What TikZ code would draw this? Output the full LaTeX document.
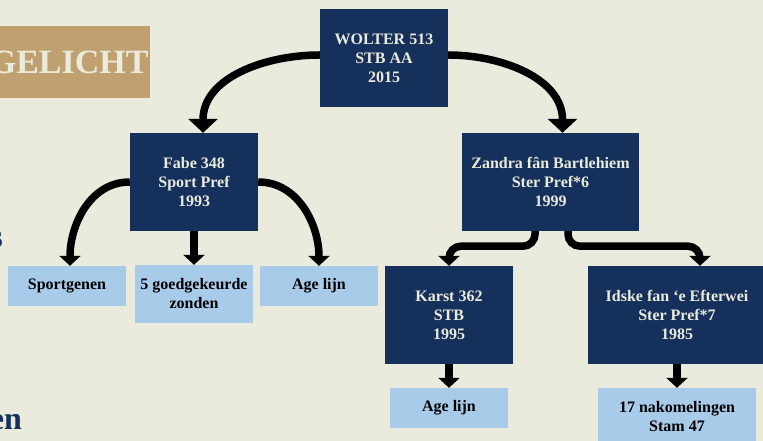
\documentclass[tikz,border=0pt]{standalone}
\usepackage{fontspec}
\setmainfont{Liberation Serif}
\usetikzlibrary{arrows.meta}
\definecolor{navy}{HTML}{15305A}
\definecolor{paleblue}{HTML}{A9CBEA}
\definecolor{gold}{HTML}{C0A06F}
\definecolor{cream}{HTML}{EAEADD}

\begin{document}
\begin{tikzpicture}[x=1pt,y=1pt,
	horse/.style={fill=navy,text=cream,minimum width=128pt,minimum height=98pt,align=center,inner sep=0pt,font=\fontsize{16}{19}\selectfont\bfseries},
	fact/.style={fill=paleblue,text=black,minimum width=118pt,minimum height=40pt,align=center,inner sep=0pt,font=\fontsize{16}{19}\selectfont\bfseries},
	banner/.style={fill=gold,text=cream,text width=150pt,align=right,inner xsep=10pt,inner ysep=0pt,minimum height=72pt,font=\fontsize{34}{34}\selectfont\bfseries},
	cut/.style={anchor=base east,text=navy,inner sep=0pt,font=\fontsize{32}{32}\selectfont\bfseries},
	bigarrow/.style={line width=7.5pt,-{Triangle[width=29pt,length=14pt]}},
	smallarrow/.style={line width=7.5pt,-{Triangle[width=21pt,length=10pt]}}]
	\useasboundingbox (0,0) rectangle (763,441);
	\clip (0,0) rectangle (763,441);
	\fill[cream] (0,0) rectangle (763,441);
	\node[banner,anchor=east] (title) at (150,379) {GELICHT};
	\node[cut] (s) at (3,193) {s};
	\node[cut] (en) at (22,11) {en};
	\node[horse] (wolter) at (384,383) {WOLTER 513\\STB AA\\2015};
	\node[horse] (fabe) at (194,259) {Fabe 348\\Sport Pref\\1993};
	\node[horse,minimum width=177pt] (zandra) at (550.5,259) {Zandra fân Bartlehiem\\Ster Pref*6\\1999};
	\node[fact] (sport) at (67,155) {Sportgenen};
	\node[fact,minimum height=58pt] (goed) at (194,147) {5 goedgekeurde\\zonden};
	\node[fact] (agel) at (319,155) {Age lijn};
	\node[horse] (karst) at (449,126) {Karst 362\\STB\\1995};
	\node[horse,minimum width=178pt] (idske) at (677,126) {Idske fan ‘e Efterwei\\Ster Pref*7\\1985};
	\node[fact] (ager) at (449,33) {Age lijn};
	\node[fact,minimum width=158pt,minimum height=58pt] (nako) at (677,24) {17 nakomelingen\\Stam 47};
	\draw[bigarrow] ([yshift=3pt]wolter.west) to[out=180,in=90] ([xshift=9pt]fabe.north);
	\draw[bigarrow] ([yshift=3pt]wolter.east) to[out=0,in=90] ([xshift=12pt]zandra.north);
	\draw[smallarrow] (fabe.west) to[out=180,in=90] ([xshift=3pt]sport.north);
	\draw[smallarrow] (fabe.south) -- (goed.north);
	\draw[smallarrow] (fabe.east) to[out=0,in=90] (agel.north);
	\draw[smallarrow,rounded corners=12pt] ([xshift=-15.5pt]zandra.south) -- ++(0,-15) -| (karst.north);
	\draw[smallarrow,rounded corners=12pt] ([xshift=17.5pt]zandra.south) -- ++(0,-15) -| ([xshift=23pt]idske.north);
	\draw[smallarrow] (karst.south) -- (ager.north);
	\draw[smallarrow] (idske.south) -- (nako.north);
\end{tikzpicture}
\end{document}
